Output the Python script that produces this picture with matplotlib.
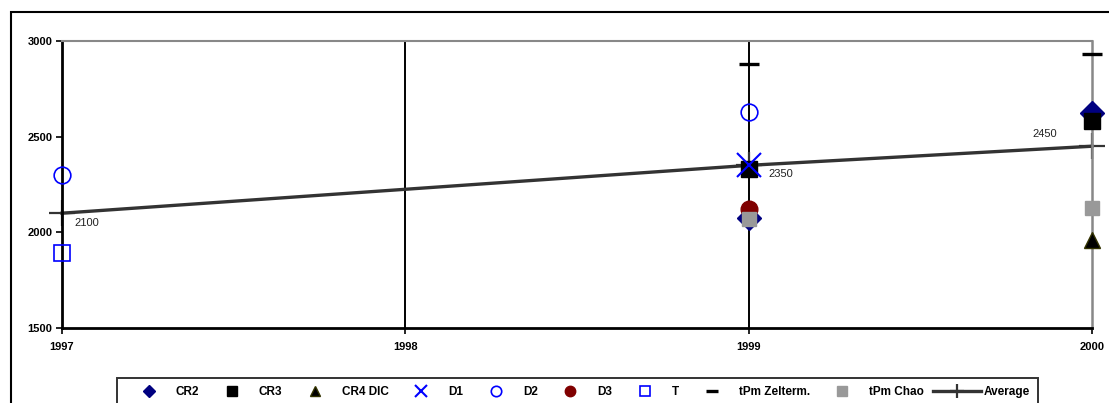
import matplotlib
matplotlib.use("Agg")
import matplotlib.pyplot as plt
from matplotlib.patches import Rectangle

plt.rcParams['font.family'] = ['Liberation Sans', 'DejaVu Sans']

# ---- data ----
years = [1997, 1998, 1999, 2000]
x_ticks = [1997, 1998, 1999, 2000]
y_ticks = [1500, 2000, 2500, 3000]

cr2_x, cr2_y = [1999, 2000], [2075, 2625]
cr3_x, cr3_y = [1999, 2000], [2330, 2580]
cr4_x, cr4_y = [2000], [1960]
d1_x, d1_y = [1999], [2350]
d2_x, d2_y = [1997, 1999], [2300, 2630]
d3_x, d3_y = [1999], [2120]
t_x, t_y = [1997], [1890]
tpmz_x, tpmz_y = [1999, 2000], [2880, 2930]
tpmc_x, tpmc_y = [1999, 2000], [2070, 2125]
avg_x, avg_y = [1997, 1999, 2000], [2100, 2350, 2450]
avg_labels = ["2100", "2350", "2450"]

W, H = 1109, 403
fig = plt.figure(figsize=(W / 100, H / 100), dpi=100)
ax = fig.add_axes([62 / W, 1 - 328 / H, (1092 - 62) / W, (328 - 41) / H])

# outer chart frame
fig.patches.append(Rectangle((11 / W, -0.05), 1.1, 1 - 12 / H + 0.05,
                             transform=fig.transFigure, fill=False,
                             edgecolor='black', linewidth=1.5, zorder=0))

# vertical gridlines
for gx in [1998, 1999]:
    ax.axvline(gx, color='black', linewidth=1.4, zorder=1)

series = [
    dict(x=cr2_x, y=cr2_y, label='CR2', marker='D', ms=12.5, mfc='#000080', mec='#000080', mew=1, lms=6.5),
    dict(x=cr3_x, y=cr3_y, label='CR3', marker='s', ms=12, mfc='black', mec='black', mew=1, lms=7),
    dict(x=cr4_x, y=cr4_y, label='CR4 DIC', marker='^', ms=12, mfc='black', mec='#333300', mew=1, lms=7.5),
    dict(x=d1_x, y=d1_y, label='D1', marker='x', ms=17, mfc='none', mec='#0000FF', mew=1.5, lms=8),
    dict(x=d2_x, y=d2_y, label='D2', marker='o', ms=12, mfc='none', mec='#0000FF', mew=1.2, lms=7.5),
    dict(x=d3_x, y=d3_y, label='D3', marker='o', ms=12, mfc='#800000', mec='#800000', mew=1, lms=7.5),
    dict(x=t_x, y=t_y, label='T', marker='s', ms=12, mfc='none', mec='#0000FF', mew=1.2, lms=7),
    dict(x=tpmz_x, y=tpmz_y, label='tPm Zelterm.', marker='_', ms=14, mfc='black', mec='black', mew=2.4, lms=8.5),
    dict(x=tpmc_x, y=tpmc_y, label='tPm Chao', marker='s', ms=9.5, mfc='#999999', mec='#999999', mew=1, lms=7),
]

handles = []
leg_sizes = []
for s in series:
    h, = ax.plot(s['x'], s['y'], linestyle='none', marker=s['marker'], markersize=s['ms'],
                 markerfacecolor=s['mfc'], markeredgecolor=s['mec'], markeredgewidth=s['mew'],
                 label=s['label'], clip_on=False, zorder=3)
    handles.append(h)
    leg_sizes.append(s['lms'])

ha_, = ax.plot(avg_x, avg_y, color='#333333', linewidth=2.4, marker='+', markersize=19,
               markeredgewidth=1.6, markeredgecolor='#333333', label='Average',
               clip_on=False, zorder=2)
handles.append(ha_)
leg_sizes.append(10)

# data labels for Average
offsets = [((8.6, -7.2), 'left'), ((14.4, -6.2), 'left'), ((-33.8, 8.6), 'center')]
for xv, yv, lab, (off, hal) in zip(avg_x, avg_y, avg_labels, offsets):
    ax.annotate(lab, (xv, yv), xytext=off, textcoords='offset points',
                ha=hal, va='center', fontsize=8, color='#222222')

ax.set_xlim(1997, 2000)
ax.set_ylim(1500, 3000)
ax.set_xticks(x_ticks)
ax.set_xticklabels([str(v) for v in x_ticks], fontweight='bold', fontsize=8)
ax.set_yticks(y_ticks)
ax.set_yticklabels([str(v) for v in y_ticks], fontweight='bold', fontsize=8)
ax.tick_params(axis='both', direction='out', length=4, width=1.2, color='black', pad=3)
ax.tick_params(axis='x', pad=6)

ax.spines['left'].set_linewidth(2)
ax.spines['left'].set_color('black')
ax.spines['bottom'].set_linewidth(2)
ax.spines['bottom'].set_color('black')
ax.spines['top'].set_linewidth(1.5)
ax.spines['top'].set_color('#888888')
ax.spines['right'].set_linewidth(1.8)
ax.spines['right'].set_color('#888888')
ax.set_facecolor('white')

leg = ax.legend(handles=handles, loc='upper left', bbox_to_anchor=(117 / W, 1 - 378 / H),
                bbox_transform=fig.transFigure, ncol=10, frameon=True, fancybox=False,
                edgecolor='black', borderaxespad=0, handlelength=4.05, handletextpad=0.25,
                columnspacing=0.75, prop={'weight': 'bold', 'size': 8.5}, borderpad=0.65)
leg.get_frame().set_linewidth(1.4)
for lh, sz in zip(leg.legend_handles, leg_sizes):
    lh.set_markersize(sz)

fig.savefig('out.png', dpi=100)
